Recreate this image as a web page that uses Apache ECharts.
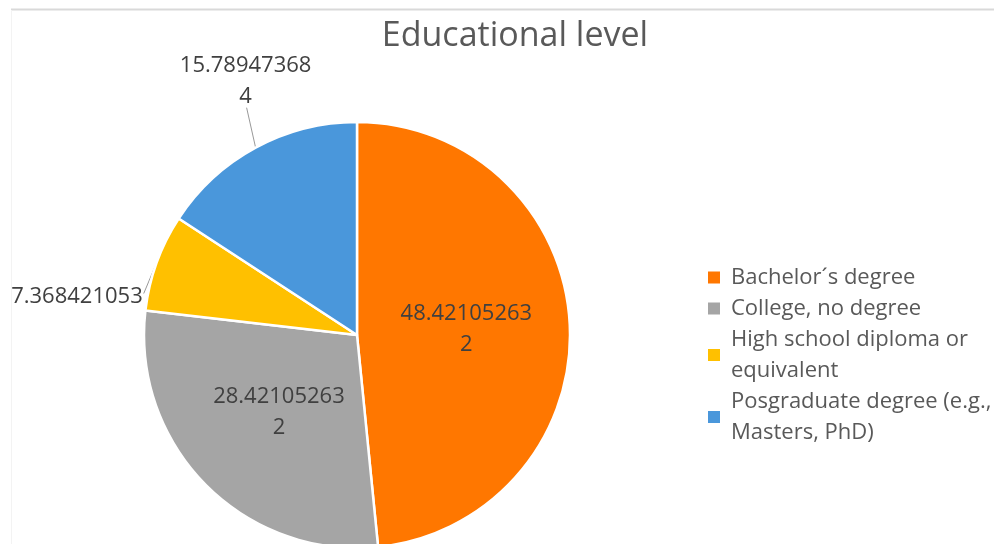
<!DOCTYPE html>
<html><head><meta charset="utf-8">
<script src="https://cdn.jsdelivr.net/npm/echarts@6/dist/echarts.min.js"></script>
<style>html,body{margin:0;padding:0;background:#fff}#c{width:994px;height:544px}</style>
</head><body><div id="c"></div>
<script>
const categories = ['Bachelor´s degree', 'College, no degree', 'High school diploma or equivalent', 'Posgraduate degree (e.g., Masters, PhD)'];
const legendLabels = ['Bachelor´s degree', 'College, no degree', 'High school diploma or\nequivalent', 'Posgraduate degree (e.g.,\nMasters, PhD)'];
const values = [48.421052632, 28.421052632, 7.368421053, 15.789473684];
const colors = ['#FF7700', '#A5A5A5', '#FFC000', '#4A97DB'];
const labelPlacement = ['inside', 'inside', 'outside', 'outside'];

function labelText(v) {
  const s = String(v);
  return s.length > 11 ? s.slice(0, 11) + '\n' + s.slice(11) : s;
}

const chart = echarts.init(document.getElementById('c'), null, {renderer: 'canvas'});
const labelFont = {fontFamily: 'Open Sans', fontSize: 22, color: '#404040', lineHeight: 31, overflow: 'none'};

chart.setOption({
  animation: false,
  backgroundColor: '#ffffff',
  title: {
    text: 'Educational level',
    left: 510, top: 14, textAlign: 'center',
    textStyle: {fontFamily: 'Open Sans', fontSize: 34, fontWeight: 'normal', color: '#595959'}
  },
  graphic: [
    {type: 'line', shape: {x1: 11, y1: 9.5, x2: 994, y2: 9.5}, style: {stroke: '#d9d9d9', lineWidth: 2}, silent: true},
    {type: 'line', shape: {x1: 11.5, y1: 10, x2: 11.5, y2: 544}, style: {stroke: '#f3f3f3', lineWidth: 1}, silent: true}
  ],
  legend: {
    orient: 'vertical', left: 706, top: 262, padding: 0, itemGap: 0,
    itemWidth: 14, itemHeight: 14, icon: 'rect',
    selectedMode: false,
    data: categories,
    formatter: name => legendLabels[categories.indexOf(name)],
    textStyle: {fontFamily: 'Open Sans', fontSize: 22, color: '#595959', lineHeight: 31, padding: [0, 0, 0, 5]}
  },
  series: [{
    type: 'pie',
    center: [357, 335],
    radius: 213,
    startAngle: 90,
    clockwise: true,
    silent: true,
    emphasis: {disabled: true},
    itemStyle: {borderColor: '#ffffff', borderWidth: 2.5},
    labelLine: {show: true, length: 30, length2: 0, lineStyle: {color: '#999999', width: 1}},
    labelLayout: function (p) {
      if (!p.labelLinePoints) return {};
      const a = p.labelLinePoints[0];
      if (p.dataIndex === 3) {
        const end = [a[0] - 9, a[1] - 40];
        return {x: end[0] - 1, y: end[1] + 5, align: 'center', verticalAlign: 'bottom', labelLinePoints: [a, end]};
      }
      if (p.dataIndex === 2) {
        const end = [a[0] - 13, a[1] + 31];
        return {x: a[0] - 14, y: a[1] + 34, align: 'right', verticalAlign: 'middle', labelLinePoints: [a, end]};
      }
      return {};
    },
    data: categories.map((name, i) => ({
      name: name,
      value: values[i],
      itemStyle: {color: colors[i]},
      label: Object.assign({
        show: true,
        position: labelPlacement[i],
        padding: labelPlacement[i] === 'inside' ? [6, 0, 0, 0] : 0,
        formatter: p => labelText(p.value)
      }, labelFont),
      labelLine: {show: labelPlacement[i] === 'outside'}
    }))
  }]
});
</script>
</body></html>
